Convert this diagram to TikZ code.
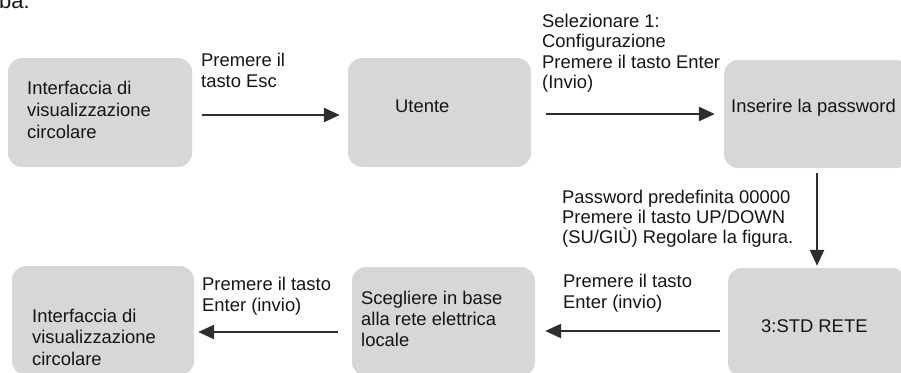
\documentclass[tikz,border=0pt]{standalone}
\usepackage{fontspec}
\setmainfont{Liberation Sans}
\usetikzlibrary{arrows.meta}
\definecolor{boxgray}{HTML}{D7D7D7}
\definecolor{arrowgray}{HTML}{2E2E2E}
\definecolor{txt}{HTML}{151515}
\tikzset{
  box/.style={fill=boxgray, draw=none, rounded corners=14pt, inner sep=0pt, minimum height=109pt},
  lbl/.style={anchor=base west, inner sep=0pt, align=left, text=txt, font={\fontsize{18.4pt}{21pt}\selectfont}},
  conn/.style={draw=arrowgray, line width=2.5pt, -{Triangle[length=16pt,width=14pt]}}
}
\begin{document}
\begin{tikzpicture}[x=1pt,y=-1pt]
\useasboundingbox (0,0) rectangle (901,372);
\clip (0,0) rectangle (901,372);
% boxes
\node[box, minimum width=184pt] (b1) at (100,112.5) {};
\node[box, minimum width=183pt] (b2) at (439.5,112.5) {};
\node[box, minimum width=186pt, minimum height=108pt] (b3) at (817,114) {};
\node[box, minimum width=178pt] (b5) at (817,322.5) {};
\node[box, minimum width=183pt] (b6) at (443.5,321.5) {};
\node[box, minimum width=182pt] (b7) at (103,320.5) {};
% texts (base = baseline of last line)
\node[lbl, font={\fontsize{22pt}{24pt}\selectfont}] (frag) at (-1,8.5) {ba.};
\node[lbl, font={\fontsize{18.4pt}{22pt}\selectfont}] (t1) at (27,138) {Interfaccia di\\visualizzazione\\circolare};
\node[lbl] (t2) at (395,112.5) {Utente};
\node[lbl] (t3) at (731,112.7) {Inserire la password};
\node[lbl] (t4) at (201,87) {Premere il\\tasto Esc};
\node[lbl, font={\fontsize{18.4pt}{20.5pt}\selectfont}] (t5) at (542,88.5) {Selezionare 1:\\Configurazione\\Premere il tasto Enter\\(Invio)};
\node[lbl, font={\fontsize{18.4pt}{20pt}\selectfont}] (t6) at (562,243) {Password predefinita 00000\\Premere il tasto UP/DOWN\\(SU/GIÙ) Regolare la figura.};
\node[lbl] (t7) at (761,332) {3:STD RETE};
\node[lbl] (t8) at (563,308) {Premere il tasto\\Enter (invio)};
\node[lbl] (t9) at (361,346) {Scegliere in base\\alla rete elettrica\\locale};
\node[lbl, font={\fontsize{18.4pt}{21.5pt}\selectfont}] (t10) at (202,311.5) {Premere il tasto\\Enter (invio)};
\node[lbl, font={\fontsize{18.4pt}{21.5pt}\selectfont}] (t11) at (32,365) {Interfaccia di\\visualizzazione\\circolare};
% connectors
\draw[conn, shorten <=10pt, shorten >=8pt] ([yshift=-2.5pt]b1.east) -- ([yshift=-2.5pt]b2.west);
\draw[conn, shorten <=15pt, shorten >=9pt] (b2.east |- b3.west) -- (b3.west);
\draw[conn, shorten <=5pt, shorten >=2pt] (b3.south) -- (b5.north);
\draw[conn, shorten <=8pt, shorten >=10pt] ([yshift=-8.5pt]b5.west) -- ([yshift=-9.5pt]b6.east);
\draw[conn, shorten <=14pt, shorten >=4pt] ([yshift=-10.5pt]b6.west) -- ([yshift=-11.5pt]b7.east);
\end{tikzpicture}
\end{document}
